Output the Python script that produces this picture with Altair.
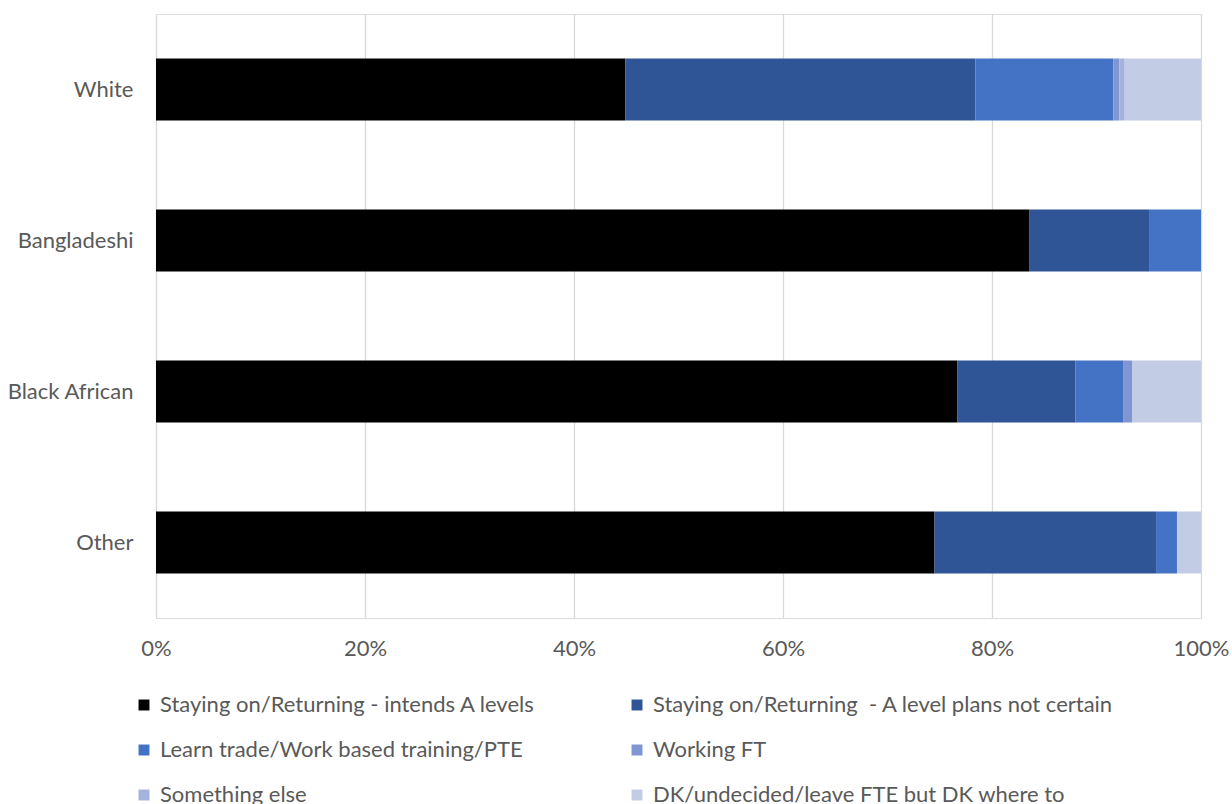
import altair as alt
import pandas as pd

# Ethnic groups (top to bottom) and destination categories (stack order)
groups = ["White", "Bangladeshi", "Black African", "Other"]
categories = [
    "Staying on/Returning - intends A levels",
    "Staying on/Returning\u00a0 - A level plans not certain",
    "Learn trade/Work based training/PTE",
    "Working FT",
    "Something else",
    "DK/undecided/leave FTE but DK where to",
]
colors = ["#000000", "#2F5597", "#4472C4", "#7F96D0", "#A4B3DB", "#C3CCE5"]

# Share of each group (in %) per category, same order as `categories`
white = [44.9, 33.5, 13.2, 0.6, 0.5, 7.3]
bangladeshi = [83.6, 11.5, 4.9, 0.0, 0.0, 0.0]
black_african = [76.7, 11.3, 4.6, 0.8, 0.0, 6.6]
other = [74.5, 21.2, 2.0, 0.0, 0.0, 2.3]

rows = []
for g, vals in zip(groups, [white, bangladeshi, black_african, other]):
    for i, (c, v) in enumerate(zip(categories, vals)):
        rows.append({"group": g, "category": c, "order": i, "value": v / 100.0})
df = pd.DataFrame(rows)

FONT = "Lato"
GREY = "#595959"
FS = 22

chart = (
    alt.Chart(df)
    .mark_bar(size=62)
    .encode(
        x=alt.X(
            "sum(value):Q",
            stack="zero",
            scale=alt.Scale(domain=[0, 1], nice=False),
            axis=alt.Axis(
                format="%",
                values=[0, 0.2, 0.4, 0.6, 0.8, 1.0],
                title=None,
                domain=False,
                ticks=False,
                grid=True,
                gridColor="#D9D9D9",
                gridWidth=1.3,
                labelFlush=False,
                labelPadding=20,
                labelFontSize=FS,
                labelColor=GREY,
                labelFont=FONT,
            ),
        ),
        y=alt.Y(
            "group:N",
            sort=groups,
            axis=alt.Axis(
                title=None,
                domain=False,
                ticks=False,
                labelPadding=23,
                labelFontSize=FS,
                labelColor=GREY,
                labelFont=FONT,
            ),
        ),
        color=alt.Color(
            "category:N",
            sort=categories,
            scale=alt.Scale(domain=categories, range=colors),
            legend=alt.Legend(
                title=None,
                orient="none",
                direction="horizontal",
                legendX=-23,
                legendY=680,
                columns=2,
                columnPadding=90,
                rowPadding=23,
                symbolType="square",
                symbolSize=120,
                symbolStrokeWidth=0,
                labelFontSize=FS,
                labelColor=GREY,
                labelFont=FONT,
                labelOffset=5,
                labelLimit=700,
            ),
        ),
        order=alt.Order("order:Q"),
    )
    .properties(
        width=1045,
        height=604,
        padding={"left": 156, "top": 14, "right": 31, "bottom": 186},
        autosize=alt.AutoSizeParams(type="none"),
    )
    .configure_view(stroke=None)
    .configure(background="white")
)

chart.save("out.html", embed_options={"renderer": "svg", "actions": False})
